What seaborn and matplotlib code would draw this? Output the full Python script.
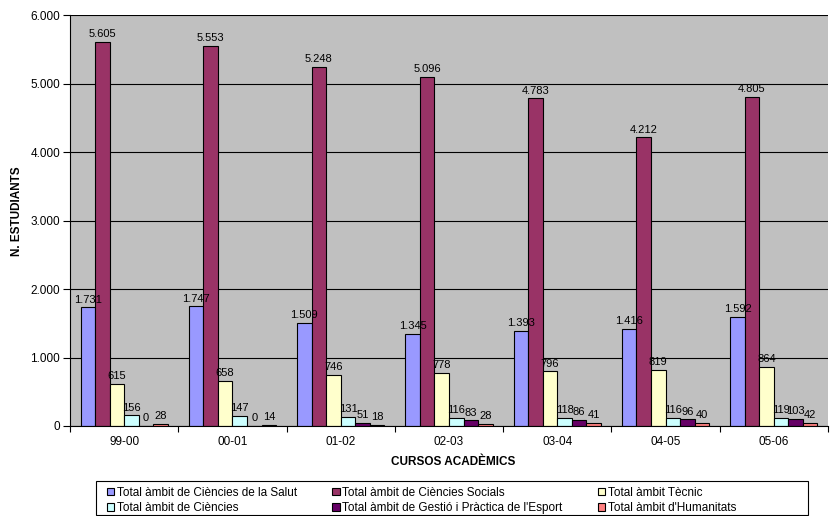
import matplotlib
matplotlib.use("Agg")
import matplotlib.pyplot as plt
import seaborn as sns
import pandas as pd
from matplotlib.patches import Patch, Rectangle
from matplotlib.ticker import FuncFormatter, FixedLocator

cursos = ["99-00", "00-01", "01-02", "02-03", "03-04", "04-05", "05-06"]
ambits = [
    "Total àmbit de Ciències de la Salut",
    "Total àmbit de Ciències Socials",
    "Total àmbit Tècnic",
    "Total àmbit de Ciències",
    "Total àmbit de Gestió i Pràctica de l'Esport",
    "Total àmbit d'Humanitats",
]
salut = [1731, 1747, 1509, 1345, 1393, 1416, 1592]
socials = [5605, 5553, 5248, 5096, 4783, 4212, 4805]
tecnic = [615, 658, 746, 778, 796, 819, 864]
ciencies = [156, 147, 131, 116, 118, 116, 119]
esport = [0, 0, 51, 83, 86, 96, 103]
humanitats = [28, 14, 18, 28, 41, 40, 42]
colors = ["#9999FF", "#993366", "#FFFFCC", "#CCFFFF", "#660066", "#FF8080"]

series = [salut, socials, tecnic, ciencies, esport, humanitats]
rows = []
for a, vals in zip(ambits, series):
    for c, v in zip(cursos, vals):
        rows.append({"curs": c, "ambit": a, "n": v})
df = pd.DataFrame(rows)

plt.rcParams["font.family"] = ["Liberation Sans", "DejaVu Sans"]

W, H = 830, 516
AX_L, AX_B, AX_W, AX_H = 70, 90, 758, 411
fig = plt.figure(figsize=(W / 100, H / 100), dpi=100)
ax = fig.add_axes([AX_L / W, AX_B / H, AX_W / W, AX_H / H])
ax.set_facecolor("#C0C0C0")

sns.barplot(data=df, x="curs", y="n", hue="ambit", hue_order=ambits, order=cursos,
            palette=colors, saturation=1, edgecolor="black", linewidth=0.8,
            width=0.806, ax=ax, legend=False, errorbar=None)

def fmt(v):
    return f"{int(round(v)):,}".replace(",", ".")

for cont in ax.containers:
    ax.bar_label(cont, labels=[fmt(b.get_height()) for b in cont], padding=2, fontsize=8)

ax.set_ylim(0, 6000)
ax.set_xlim(-0.5, 6.5)
ax.yaxis.set_major_locator(FixedLocator(range(0, 6001, 1000)))
ax.yaxis.set_major_formatter(FuncFormatter(lambda v, p: fmt(v)))
ax.grid(axis="y", color="black", linewidth=0.8)
ax.set_axisbelow(True)
ax.tick_params(axis="y", labelsize=8.5, length=5, width=0.8, color="black", pad=2)
ax.tick_params(axis="x", which="major", labelsize=8.5, length=0, pad=7)
ax.set_xticks([i + 0.5 for i in range(-1, 7)], minor=True)
ax.tick_params(axis="x", which="minor", length=4, width=0.8, color="black")
for s in ["top", "right"]:
    ax.spines[s].set_visible(False)
for s in ["left", "bottom"]:
    ax.spines[s].set_color("black")
    ax.spines[s].set_linewidth(0.8)

ax.set_xlabel("CURSOS ACADÈMICS", fontsize=8.5, fontweight="bold")
ax.set_ylabel("N. ESTUDIANTS", fontsize=8.5, fontweight="bold")
ax.xaxis.set_label_coords((453 - AX_L) / AX_W, -(462 - (H - AX_B - AX_H) - AX_H) / AX_H)
ax.xaxis.label.set_va("center")
ax.yaxis.set_label_coords((17 - AX_L) / AX_W, (426 - 211) / AX_H)
ax.yaxis.label.set_va("center")

# legend frame (drawn manually to match the reference box)
fig.patches.append(Rectangle((96 / W, 1 - 515 / H), (808 - 96) / W, (515 - 481) / H,
                             transform=fig.transFigure, facecolor="white",
                             edgecolor="black", linewidth=0.8, zorder=1))

handles = [Patch(facecolor=c, edgecolor="black", linewidth=0.8) for c in colors]
order = [0, 3, 1, 4, 2, 5]
leg = fig.legend([handles[i] for i in order], [ambits[i] for i in order],
                 ncol=3, loc="upper left", bbox_to_anchor=(98 / W, 1 - 478 / H),
                 fontsize=8.5, frameon=False,
                 handlelength=0.6, handleheight=0.6, handletextpad=0.25,
                 columnspacing=3.0, borderpad=0.25, labelspacing=0.28)
leg.set_zorder(2)

fig.savefig("out.png", dpi=100)
